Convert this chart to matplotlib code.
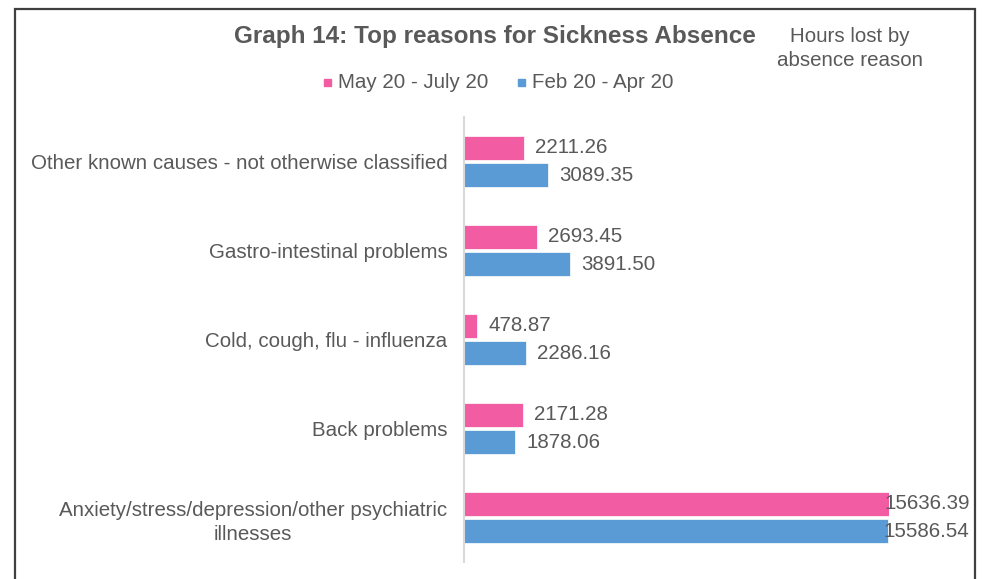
import matplotlib
matplotlib.use("Agg")
import matplotlib.pyplot as plt
from matplotlib.patches import Rectangle

plt.rcParams['font.family'] = ['Liberation Sans', 'DejaVu Sans']

categories = [
    "Anxiety/stress/depression/other psychiatric\nillnesses",
    "Back problems",
    "Cold, cough, flu - influenza",
    "Gastro-intestinal problems",
    "Other known causes - not otherwise classified",
]
may_jul = [15636.39, 2171.28, 478.87, 2693.45, 2211.26]
feb_apr = [15586.54, 1878.06, 2286.16, 3891.50, 3089.35]
series_names = ["May 20 - July 20", "Feb 20 - Apr 20"]

PINK = "#F15CA2"
BLUE = "#5B9BD5"
TEXT = "#595959"
FS = 14.8

W, H = 983, 579
fig = plt.figure(figsize=(W / 100, H / 100), dpi=100)

# outer frame (open at the bottom)
fig.add_artist(Rectangle((15.5 / W, -0.05), (975 - 15.5) / W, 1.05 - 8.5 / H,
                         transform=fig.transFigure, fill=False,
                         edgecolor="#3f3f3f", linewidth=1.6))

ax = fig.add_axes([464 / W, 1 - 562 / H, (889 - 464) / W, (562 - 117) / H])

y = list(range(len(categories)))
off, h = 0.157, 0.27
ax.barh([v + off for v in y], may_jul, height=h, color=PINK,
        edgecolor="white", linewidth=0.5)
ax.barh([v - off for v in y], feb_apr, height=h, color=BLUE,
        edgecolor="white", linewidth=0.5)

xmax = max(may_jul + feb_apr)
ax.set_xlim(0, 15636.39)
ax.set_ylim(-0.5, len(categories) - 0.5)

for vals, dy in ((may_jul, off), (feb_apr, -off)):
    for yi, v in zip(y, vals):
        dx = -3 if v > 0.9 * xmax else 8
        ax.annotate(f"{v:.2f}", (v, yi + dy), xytext=(dx, 0),
                    textcoords="offset points", ha="left", va="center",
                    fontsize=FS, color=TEXT, annotation_clip=False)

ax.set_yticks(y)
ax.set_yticklabels(categories, fontsize=FS, color=TEXT,
                   multialignment="center", linespacing=1.35)
ax.tick_params(axis="y", length=0, pad=12)
ax.set_xticks([])
for s in ("top", "right", "bottom"):
    ax.spines[s].set_visible(False)
ax.spines["left"].set_color("#d9d9d9")
ax.spines["left"].set_linewidth(1.5)

fig.text(495 / W, 1 - 36 / H, "Graph 14: Top reasons for Sickness Absence",
         ha="center", va="center", fontsize=17.5, fontweight="bold", color=TEXT)
fig.text(850 / W, 1 - 48.5 / H, "Hours lost by\nabsence reason",
         ha="center", va="center", fontsize=FS, color=TEXT, linespacing=1.3)

# legend
for x0, color, label in ((324, PINK, series_names[0]), (518, BLUE, series_names[1])):
    fig.add_artist(Rectangle((x0 / W, 1 - 86 / H), 7 / W, 7 / H,
                             transform=fig.transFigure, color=color))
    fig.text((x0 + 14) / W, 1 - 82 / H, label, ha="left", va="center",
             fontsize=FS, color=TEXT)

fig.savefig("out.png", dpi=100)
